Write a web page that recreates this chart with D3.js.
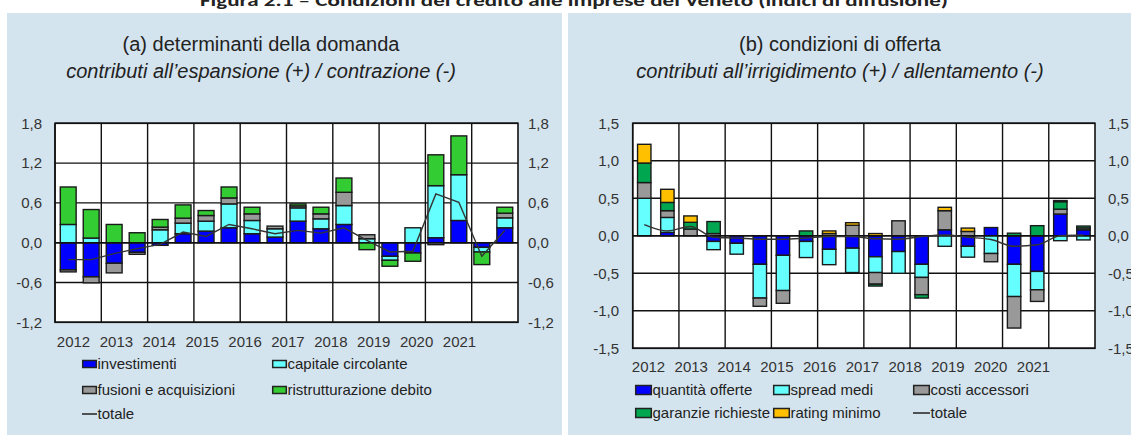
<!DOCTYPE html>
<html><head><meta charset="utf-8">
<script src="https://cdn.jsdelivr.net/npm/d3@7"></script>
<style>
body{margin:0;background:#fff;}
svg{display:block;font-family:"Liberation Sans",Arial,sans-serif;}
</style></head>
<body><svg id="c" width="1131" height="436"></svg>
<script>
// ---------- DATA ----------
const years = ["2012","2013","2014","2015","2016","2017","2018","2019","2020","2021"];
const halves = ["I","II"];

// (a) determinanti della domanda
const dInvestimenti = [-0.41,-0.515,-0.31,-0.145,-0.04,0.135,0.175,0.225,0.135,0.085,0.325,0.21,0.275,0,-0.205,-0.155,0.075,0.335,-0.07,0.225];
const dCapitale     = [0.275,0.07,0,0,0.195,0.16,0.15,0.36,0.2,0.125,0.2,0.15,0.285,0.06,-0.06,0.225,0.785,0.69,-0.07,0.15];
const dFusioni      = [-0.03,-0.09,-0.145,-0.03,0.04,0.075,0.085,0.09,0.1,0.04,0.03,0.075,0.2,0.06,0,0,-0.03,0,0,0.07];
const dRistrutt     = [0.565,0.43,0.275,0.15,0.115,0.2,0.075,0.165,0.1,0,0.03,0.1,0.215,-0.105,-0.09,-0.125,0.465,0.585,-0.19,0.09];
const dTotale       = [-0.255,-0.255,-0.165,-0.09,-0.025,0.16,0.095,0.275,0.21,0.135,0.185,0.145,0.225,0.035,-0.14,-0.13,0.735,0.61,-0.205,0.185];
const dTicks = [-1.2,-0.6,0,0.6,1.2,1.8];

// (b) condizioni di offerta
const oQuantita = [0,0.045,0,-0.075,-0.1,-0.38,-0.26,-0.075,-0.18,-0.165,-0.28,-0.21,-0.38,0.08,-0.14,0.11,-0.38,-0.475,0.29,0.08];
const oSpread   = [0.5,0.2,0,-0.11,-0.145,-0.45,-0.47,-0.215,-0.205,-0.325,-0.21,-0.29,-0.175,-0.14,-0.145,-0.236,-0.43,-0.245,-0.065,-0.055];
const oCosti    = [0.21,0.09,0.09,0.03,0,-0.11,-0.17,0,0.03,0.14,-0.155,0.2,-0.23,0.255,0.058,-0.11,-0.42,-0.155,0.065,0.025];
const oGaranzie = [0.26,0.11,0.09,0.16,0,0,0,0.065,0,0,-0.025,0,-0.045,0,0,0,0.035,0.135,0.1,0.025];
const oRating   = [0.25,0.175,0.085,0,0,0,0,0,0.035,0.035,0.03,0,0,0.045,0.045,0,0,0,0.015,0];
const oTotale   = [0.15,0.065,0.125,-0.02,-0.03,-0.045,-0.045,-0.03,-0.01,-0.01,-0.04,-0.045,-0.01,0.01,-0.02,-0.05,-0.14,-0.12,0,0.01];
const oTicks = [-1.5,-1.0,-0.5,0,0.5,1.0,1.5];

// ---------- DRAW ----------
const svg = d3.select("#c");
const periods = years.flatMap(y => halves.map(h => y + " " + h));
const fmt = v => d3.format(".1f")(v).replace(".", ",").replace("−", "-");

svg.append("text").attr("x", 574).attr("y", 6).attr("text-anchor", "middle")
  .attr("font-family", "Carlito, 'Liberation Sans', Arial, sans-serif")
  .attr("font-weight", "bold").attr("font-size", 15).attr("fill", "#222")
  .attr("textLength", 748).attr("lengthAdjust", "spacingAndGlyphs")
  .text("Figura 2.1 – Condizioni del credito alle imprese del Veneto (indici di diffusione)");

function panel(cfg) {
  const g = svg.append("g");
  g.append("rect").attr("x", cfg.panel[0]).attr("y", 13).attr("width", cfg.panel[1] - cfg.panel[0])
    .attr("height", 422).attr("fill", "#d4e4ee");

  g.append("text").attr("x", cfg.titleX).attr("y", 51).attr("text-anchor", "middle")
    .attr("font-size", 20).attr("fill", "#222").text(cfg.title1);
  g.append("text").attr("x", cfg.titleX).attr("y", 78).attr("text-anchor", "middle")
    .attr("font-size", 20).attr("font-style", "italic").attr("fill", "#222").text(cfg.title2);

  const [x0, x1] = cfg.xr, [yTop, yBot] = cfg.yr;
  const y = d3.scaleLinear().domain(cfg.domain).range([yBot, yTop]);
  const xb = d3.scaleBand().domain(periods).range([x0, x1]).paddingInner(cfg.pi).paddingOuter(cfg.po);
  const xy = d3.scaleBand().domain(years).range([x0, x1]);
  const xl = d3.scalePoint().domain(years).range(cfg.labelRange);

  g.append("rect").attr("x", x0).attr("y", yTop).attr("width", x1 - x0).attr("height", yBot - yTop).attr("fill", "#fff");

  // bars
  const rows = periods.map((p, i) => {
    const o = {p};
    cfg.series.forEach(s => o[s.name] = s.values[i]);
    return o;
  });
  const stack = d3.stack().keys(cfg.series.map(s => s.name)).offset(d3.stackOffsetDiverging)(rows);

  // grid
  const grid = g.append("g").attr("stroke", "#111").attr("stroke-width", 1.4);
  grid.selectAll(".h").data(cfg.ticks).join("line")
    .attr("x1", x0).attr("x2", x1).attr("y1", d => y(d)).attr("y2", d => y(d));
  grid.selectAll(".v").data(years).join("line")
    .attr("x1", d => xy(d)).attr("x2", d => xy(d)).attr("y1", yTop).attr("y2", yBot);

  stack.forEach((layer, k) => {
    g.append("g").selectAll("rect").data(layer.filter(d => d[1] !== d[0])).join("rect")
      .attr("x", d => xb(d.data.p)).attr("width", xb.bandwidth())
      .attr("y", d => y(Math.max(d[0], d[1]))).attr("height", d => Math.abs(y(d[0]) - y(d[1])))
      .attr("fill", cfg.series[k].color).attr("stroke", "#1a1a1a").attr("stroke-width", 1.4);
  });
  g.append("line").attr("x1", x0).attr("x2", x1).attr("y1", y(0)).attr("y2", y(0))
    .attr("stroke", "#111").attr("stroke-width", 1.4);
  g.append("rect").attr("x", x0).attr("y", yTop).attr("width", x1 - x0).attr("height", yBot - yTop)
    .attr("fill", "none").attr("stroke", "#111").attr("stroke-width", 1.6);

  // totale line
  const line = d3.line().x((d, i) => xb(periods[i]) + xb.bandwidth() / 2).y(d => y(d)).curve(cfg.curve);
  g.append("path").attr("d", line(cfg.total)).attr("fill", "none").attr("stroke", "#333").attr("stroke-width", 1.4);

  // axes
  const axL = g.append("g").attr("transform", `translate(${cfg.leftLab},0)`)
    .call(d3.axisLeft(y).tickValues(cfg.ticks).tickFormat(fmt).tickSize(0).tickPadding(0));
  const axR = g.append("g").attr("transform", `translate(${cfg.rightLab},0)`)
    .call(d3.axisRight(y).tickValues(cfg.ticks).tickFormat(fmt).tickSize(0).tickPadding(0));
  const axB = g.append("g").attr("transform", `translate(0,${cfg.yearY})`)
    .call(d3.axisBottom(xl).tickSize(0).tickPadding(0));
  [axL, axR, axB].forEach(a => {
    a.select(".domain").remove();
    a.selectAll("text").attr("font-size", 15).attr("fill", "#333").attr("font-family", "'Liberation Sans',Arial,sans-serif");
  });

  // legend
  cfg.legend.forEach(it => {
    const lg = g.append("g").attr("transform", `translate(${it.x},${it.y})`);
    if (it.line) {
      lg.append("line").attr("x1", 0).attr("x2", cfg.sw[0]).attr("y1", 0).attr("y2", 0).attr("stroke", "#222").attr("stroke-width", 1.5);
    } else {
      lg.append("rect").attr("x", 0.7).attr("y", -cfg.sw[1] / 2).attr("width", cfg.sw[0] - 1.4).attr("height", cfg.sw[1])
        .attr("fill", it.color).attr("stroke", "#222").attr("stroke-width", 1.5);
    }
    lg.append("text").attr("x", cfg.sw[0] + 0.5).attr("y", 5).attr("font-size", 15).attr("fill", "#222").text(it.label);
  });
}

const cBlue = "#0000ff", cCyan = "#66ffff", cGray = "#999999", cGreenA = "#33cc33", cGreenB = "#00a650", cYellow = "#ffc000";

panel({
  panel: [7, 562], titleX: 261,
  title1: "(a) determinanti della domanda",
  title2: "contributi all’espansione (+) / contrazione (-)",
  xr: [55, 518], yr: [123.3, 322.3], domain: [-1.2, 1.8], ticks: dTicks,
  pi: 0.31, po: 0.23, labelRange: [73, 459], yearY: 336,
  leftLab: 42, rightLab: 528, curve: d3.curveLinear,
  series: [
    {name: "investimenti", values: dInvestimenti, color: cBlue},
    {name: "capitale circolante", values: dCapitale, color: cCyan},
    {name: "fusioni e acquisizioni", values: dFusioni, color: cGray},
    {name: "ristrutturazione debito", values: dRistrutt, color: cGreenA}
  ],
  total: dTotale, sw: [15, 7],
  legend: [
    {x: 82, y: 364, label: "investimenti", color: cBlue},
    {x: 272, y: 364, label: "capitale circolante", color: cCyan},
    {x: 82, y: 390, label: "fusioni e acquisizioni", color: cGray},
    {x: 272, y: 390, label: "ristrutturazione debito", color: cGreenA},
    {x: 82, y: 414, label: "totale", line: true}
  ]
});

panel({
  panel: [568, 1131], titleX: 840,
  title1: "(b) condizioni di offerta",
  title2: "contributi all’irrigidimento (+) / allentamento (-)",
  xr: [632.7, 1095], yr: [123.3, 348.3], domain: [-1.5, 1.5], ticks: oTicks,
  pi: 0.42, po: 0.21, labelRange: [648, 1033], yearY: 361,
  leftLab: 619, rightLab: 1108, curve: d3.curveMonotoneX,
  series: [
    {name: "quantità offerte", values: oQuantita, color: cBlue},
    {name: "spread medi", values: oSpread, color: cCyan},
    {name: "costi accessori", values: oCosti, color: cGray},
    {name: "garanzie richieste", values: oGaranzie, color: cGreenB},
    {name: "rating minimo", values: oRating, color: cYellow}
  ],
  total: oTotale, sw: [17, 9],
  legend: [
    {x: 635, y: 390, label: "quantità offerte", color: cBlue},
    {x: 773, y: 390, label: "spread medi", color: cCyan},
    {x: 913, y: 390, label: "costi accessori", color: cGray},
    {x: 635, y: 413, label: "garanzie richieste", color: cGreenB},
    {x: 773, y: 413, label: "rating minimo", color: cYellow},
    {x: 913, y: 413, label: "totale", line: true}
  ]
});
</script></body></html>
